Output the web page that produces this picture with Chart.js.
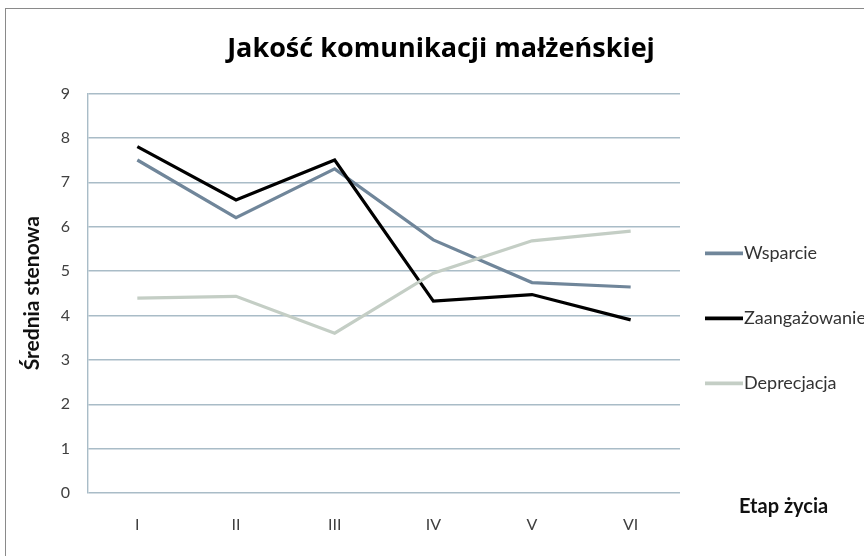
<!DOCTYPE html>
<html>
<head>
<meta charset="utf-8">
<script src="https://cdn.jsdelivr.net/npm/chart.js@4"></script>
<style>
  html, body { margin: 0; padding: 0; background: #fff; }
  #wrap { position: relative; width: 864px; height: 556px; overflow: hidden; }
  #frame { position: absolute; left: 5px; top: 8px; width: 900px; height: 600px; border: 1px solid #8a8a8a; }
  canvas { position: absolute; left: 0; top: 0; }
</style>
</head>
<body>
<div id="wrap">
  <div id="frame"></div>
  <canvas id="chart" width="864" height="556"></canvas>
</div>
<script>
// Data
const stages = ['I', 'II', 'III', 'IV', 'V', 'VI'];
const wsparcie = [7.5, 6.2, 7.3, 5.7, 4.74, 4.64];
const zaangazowanie = [7.8, 6.6, 7.5, 4.32, 4.47, 3.9];
const deprecjacja = [4.39, 4.43, 3.6, 4.95, 5.68, 5.9];
const yTicks = [0, 1, 2, 3, 4, 5, 6, 7, 8, 9];

const FONT = 'Lato, "Open Sans", sans-serif';
const gridColor = '#a9bcc7';

// Legend at the right and the x axis title next to the plot, as in the Excel original
const sideLabels = {
    id: 'sideLabels',
    afterDraw(chart) {
        const { ctx, chartArea } = chart;
        ctx.save();
        ctx.textBaseline = 'middle';
        ctx.textAlign = 'left';
        ctx.font = '18px ' + FONT;
        chart.data.datasets.forEach((ds, i) => {
            const y = chartArea.top + 160 + i * 65;
            const x0 = chartArea.right + 25;
            ctx.strokeStyle = ds.borderColor;
            ctx.lineWidth = ds.borderWidth + 0.5;
            ctx.beginPath();
            ctx.moveTo(x0, y);
            ctx.lineTo(x0 + 38, y);
            ctx.stroke();
            ctx.fillStyle = '#333';
            ctx.fillText(ds.label, x0 + 39, y);
        });
        ctx.font = 'bold 20px ' + FONT;
        ctx.fillStyle = '#111';
        ctx.fillText('Etap życia', chartArea.right + 59, chartArea.bottom + 14);
        ctx.restore();
    }
};

new Chart(document.getElementById('chart'), {
    type: 'line',
    data: {
        labels: stages,
        datasets: [
            { label: 'Wsparcie', data: wsparcie, borderColor: '#70869a', order: 2 },
            { label: 'Zaangażowanie', data: zaangazowanie, borderColor: '#000000', order: 1 },
            { label: 'Deprecjacja', data: deprecjacja, borderColor: '#c4cec5', order: 0 }
        ].map(d => Object.assign(d, { borderWidth: 3.2, pointRadius: 0, tension: 0, fill: false }))
    },
    options: {
        responsive: false,
        animation: false,
        layout: { padding: { top: 20, left: 18, right: 0, bottom: 0 } },
        plugins: {
            legend: { display: false },
            tooltip: { enabled: false },
            title: {
                display: true,
                text: 'Jakość komunikacji małżeńskiej',
                color: '#000',
                font: { family: '"Open Sans", Lato, sans-serif', size: 27, weight: 'bold' },
                padding: { top: 13, bottom: 28 }
            }
        },
        scales: {
            x: {
                offset: true,
                grid: { display: false, drawTicks: false },
                border: { display: false },
                ticks: { color: '#404040', font: { family: FONT, size: 16 }, padding: 22 },
                afterFit(s) { s.height = 63; }
            },
            y: {
                min: 0,
                max: 9,
                afterBuildTicks(s) { s.ticks = yTicks.map(v => ({ value: v })); },
                grid: { color: gridColor, lineWidth: 1.4, drawTicks: false },
                border: { color: gridColor, width: 1.4 },
                ticks: { color: '#404040', font: { family: FONT, size: 16 }, padding: 18 },
                title: {
                    display: true,
                    text: 'Średnia stenowa',
                    color: '#111',
                    font: { family: FONT, size: 21, weight: 'bold' },
                    padding: { top: 2, bottom: 0 }
                },
                afterFit(s) { s.width = 70; }
            },
            yRight: {
                position: 'right',
                display: true,
                grid: { display: false },
                border: { display: false },
                ticks: { display: false },
                afterFit(s) { s.width = 184; }
            }
        }
    },
    plugins: [sideLabels]
});
</script>
</body>
</html>
